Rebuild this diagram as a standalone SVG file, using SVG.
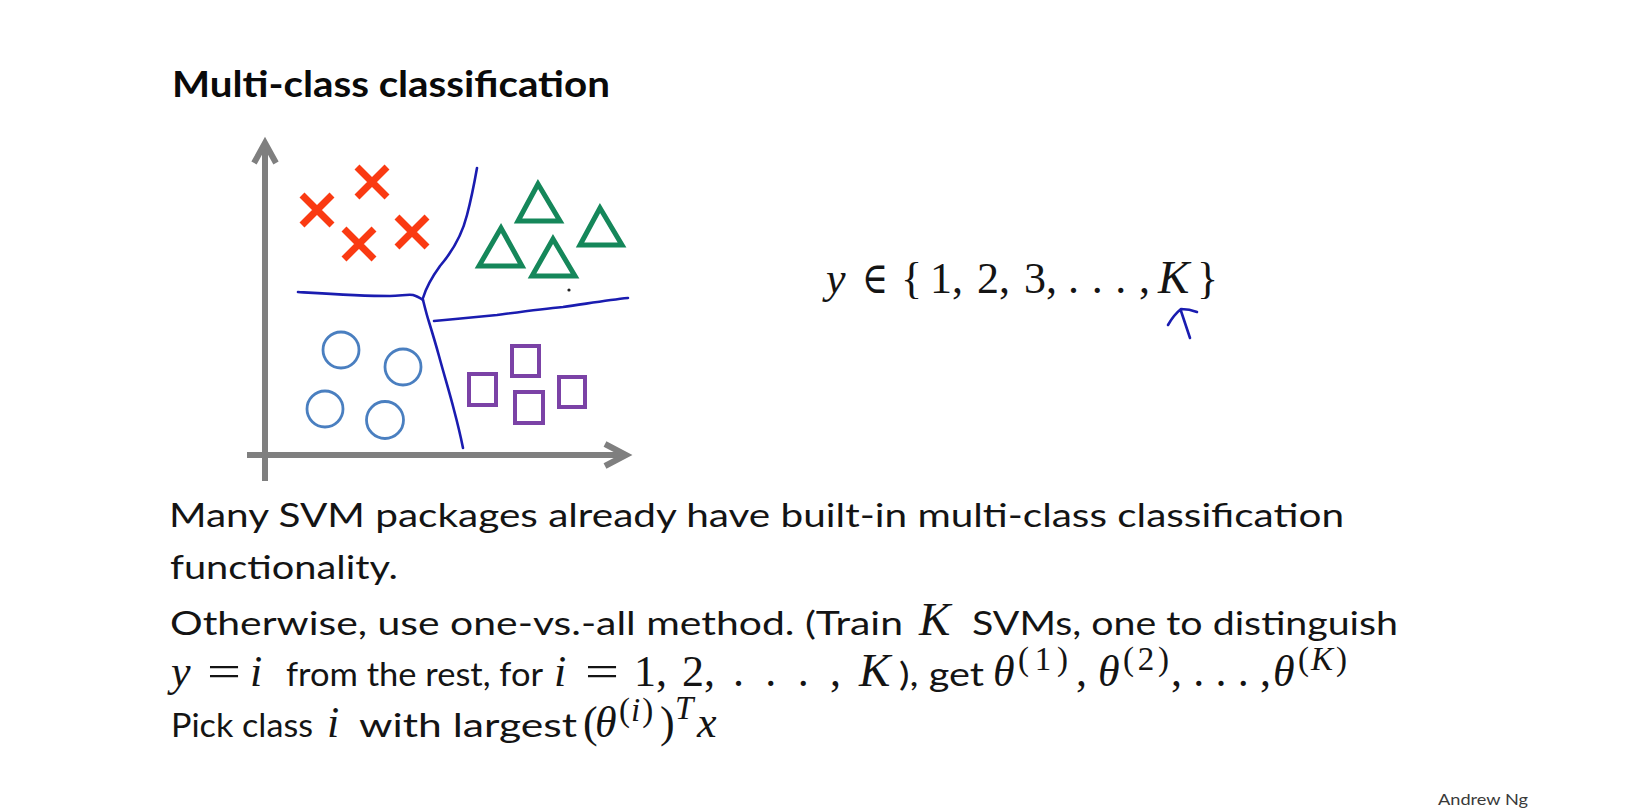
<svg xmlns="http://www.w3.org/2000/svg" width="1646" height="812" viewBox="0 0 1646 812">
<style>
.t{font-family:Lato,"Liberation Sans",sans-serif;font-size:32px;fill:#141414}
.h{font-family:Lato,"Liberation Sans",sans-serif;font-size:36px;font-weight:700;fill:#0a0a0a}
.mi{font-family:"Liberation Serif","DejaVu Serif",serif;font-style:italic;font-size:44px;fill:#141414}
.mk{font-family:"Liberation Serif","DejaVu Serif",serif;font-style:italic;font-size:47px;fill:#141414}
.mr{font-family:"Liberation Serif","DejaVu Serif",serif;font-size:44px;fill:#141414}
.si{font-family:"Liberation Serif","DejaVu Serif",serif;font-style:italic;font-size:33px;fill:#141414}
.sr{font-family:"Liberation Serif","DejaVu Serif",serif;font-size:33px;fill:#141414}
.ax{stroke:#7f7f7f;stroke-width:6;fill:none;stroke-linecap:butt}
.x{stroke:#fa3a12;stroke-width:7;stroke-linecap:butt}
.tri{fill:none;stroke:#15875a;stroke-width:5;stroke-linejoin:miter}
.c{fill:none;stroke:#4a7fc0;stroke-width:2.8}
.sq{fill:none;stroke:#7b42a6;stroke-width:4}
.bd{fill:none;stroke:#1a1cb0;stroke-width:2.6;stroke-linecap:round;stroke-linejoin:round}
</style>
<rect width="1646" height="812" fill="#ffffff"/>
<g id="title"><text class="h" x="172" y="97" textLength="438" lengthAdjust="spacingAndGlyphs">Multi-class classification</text></g>

<g id="axes">
<path class="ax" d="M265,481 V145"/>
<path class="ax" d="M254,163 L265,143 L276,163"/>
<path class="ax" d="M247,455 H624"/>
<path class="ax" d="M605,444 L626,455 L605,466"/>
</g>

<g id="boundaries">
<path class="bd" d="M477,168 C474,185 471,200 467,215 C462,235 452,252 440,266 C432,277 426,288 423,298"/>
<path class="bd" d="M298,292 C330,294 360,296 390,296 C400,296 408,294 413,295 C417,296 420,298 423,300"/>
<path class="bd" d="M423,300 C425,308 427,316 429,322 C433,335 436,345 439,356 C445,378 450,394 454,410 C458,425 461,438 463,448"/>
<path class="bd" d="M434,321 C455,319 478,317 497,315 C520,312 542,309 563,307 C585,304 607,300 628,298"/>
</g>

<g id="class-x">
<path class="x" d="M302,195 L332,225 M332,195 L302,225"/>
<path class="x" d="M357,167 L387,197 M387,167 L357,197"/>
<path class="x" d="M344,229 L374,259 M374,229 L344,259"/>
<path class="x" d="M397,217 L427,247 M427,217 L397,247"/>
</g>

<g id="class-triangle">
<path class="tri" d="M538,184 L518,221 L560,221 Z"/>
<path class="tri" d="M600,208 L580,245 L622,245 Z"/>
<path class="tri" d="M501,228 L479,266 L522,266 Z"/>
<path class="tri" d="M553,239 L532,276 L575,276 Z"/>
<circle cx="569" cy="290" r="1.6" fill="#222"/>
</g>

<g id="class-circle">
<circle class="c" cx="341" cy="350" r="18"/>
<circle class="c" cx="403" cy="367" r="18"/>
<circle class="c" cx="325" cy="409" r="18"/>
<circle class="c" cx="385" cy="420" r="18.5"/>
</g>

<g id="class-square">
<rect class="sq" x="512" y="346" width="27" height="30"/>
<rect class="sq" x="469" y="374" width="27" height="31"/>
<rect class="sq" x="515" y="392" width="28" height="31"/>
<rect class="sq" x="559" y="377" width="26" height="30"/>
</g>

<g id="label-set">
<text class="mi" x="826" y="293">y</text>
<text class="mr" x="862" y="293" textLength="26" lengthAdjust="spacingAndGlyphs">∈</text>
<text class="mr" x="901" y="293">{</text>
<text class="mr" x="930" y="293">1,</text>
<text class="mr" x="977" y="293">2,</text>
<text class="mr" x="1024" y="293">3,</text>
<text class="mr" x="1068" y="293" textLength="82" lengthAdjust="spacing">. . . ,</text>
<text class="mk" x="1158" y="293">K</text>
<text class="mr" x="1197" y="293">}</text>
<path class="bd" d="M1168,325 C1172,318 1176,313 1181,309 C1186,309 1192,310 1197,312 M1181,311 C1184,320 1187,329 1190,338" stroke="#2433cc"/>
</g>

<g id="body">
<text class="t" x="169" y="527" textLength="1175" lengthAdjust="spacingAndGlyphs">Many SVM packages already have built-in multi-class classification</text>
<text class="t" x="170" y="579" textLength="228" lengthAdjust="spacingAndGlyphs">functionality.</text>

<text class="t" x="170" y="635" textLength="733" lengthAdjust="spacingAndGlyphs">Otherwise, use one-vs.-all method. (Train</text>
<text class="mk" x="919" y="635">K</text>
<text class="t" x="972" y="635" textLength="426" lengthAdjust="spacingAndGlyphs">SVMs, one to distinguish</text>

<text class="mi" x="171" y="686">y</text>
<text class="mr" x="207" y="686" textLength="34" lengthAdjust="spacingAndGlyphs">=</text>
<text class="mi" x="250" y="686">i</text>
<text class="t" x="286" y="686" textLength="257" lengthAdjust="spacingAndGlyphs">from the rest, for</text>
<text class="mi" x="554" y="686">i</text>
<text class="mr" x="585" y="686" textLength="34" lengthAdjust="spacingAndGlyphs">=</text>
<text class="mr" x="634" y="686">1,</text>
<text class="mr" x="682" y="686">2,</text>
<text class="mr" x="733" y="686" textLength="108" lengthAdjust="spacing">. . . ,</text>
<text class="mk" x="859" y="686">K</text>
<text class="t" x="899" y="686" textLength="85" lengthAdjust="spacingAndGlyphs">), get</text>
<text class="mi" x="993" y="686">θ</text>
<text class="sr" x="1018" y="670" textLength="50" lengthAdjust="spacing">(1)</text>
<text class="mr" x="1076" y="686">,</text>
<text class="mi" x="1098" y="686">θ</text>
<text class="sr" x="1123" y="670" textLength="46" lengthAdjust="spacing">(2)</text>
<text class="mr" x="1171" y="686" textLength="100" lengthAdjust="spacing">, . . . ,</text>
<text class="mi" x="1273" y="686">θ</text>
<text x="1298" y="670"><tspan class="sr">(</tspan><tspan class="si" dx="2">K</tspan><tspan class="sr" dx="3">)</tspan></text>

<text class="t" x="171" y="737" textLength="142" lengthAdjust="spacingAndGlyphs">Pick class</text>
<text class="mi" x="327" y="737">i</text>
<text class="t" x="359" y="737" textLength="218" lengthAdjust="spacingAndGlyphs">with largest</text>
<text class="mr" x="583" y="737">(</text>
<text class="mi" x="595" y="737">θ</text>
<text x="619" y="721"><tspan class="sr">(</tspan><tspan class="si" dx="1">i</tspan><tspan class="sr" dx="2">)</tspan></text>
<text class="mr" x="660" y="737">)</text>
<text class="si" x="675" y="719">T</text>
<text class="mi" x="697" y="737">x</text>
</g>

<g id="footer"><text x="1438" y="805" textLength="90" lengthAdjust="spacingAndGlyphs" style="font-family:Lato,'Liberation Sans',sans-serif;font-size:16px;fill:#3a3a3a">Andrew Ng</text></g>
</svg>
